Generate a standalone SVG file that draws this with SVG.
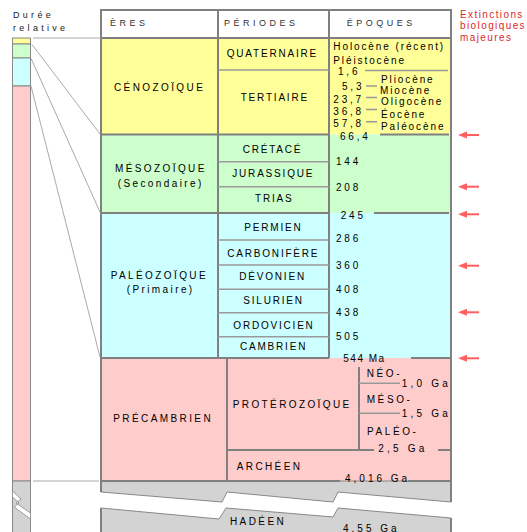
<svg xmlns="http://www.w3.org/2000/svg" width="527" height="532" viewBox="0 0 527 532">
<style>
text{font-family:"Liberation Sans",Arial,sans-serif;fill:#000}
.hd{font-size:9px;letter-spacing:3.5px;fill:#333}
.dr{font-size:9px;letter-spacing:3.3px;fill:#222}
.era{font-size:10px;letter-spacing:2.4px}
.per{font-size:10px;letter-spacing:1.8px}
.ep{font-size:10px;letter-spacing:1.9px}
.num{font-size:10px;letter-spacing:2.8px}
.red{font-size:10px;letter-spacing:1.4px;fill:#e02828}
.b{stroke:#808080;stroke-width:2;fill:none}
.t{stroke:#999;stroke-width:1.5;fill:none}
.c{stroke:#aaa;stroke-width:1;fill:none}
.bar{stroke:#888;stroke-width:1}
</style>
<defs>
<g id="arr"><path d="M458,0 L467,-3.5 L467,3.5 Z" fill="#ff5f5f"/><line x1="465" y1="0" x2="479" y2="0" stroke="#ff5f5f" stroke-width="2"/></g>
</defs>

<g id="legend-bar">
<rect x="12.5" y="38" width="18" height="6" fill="#ffff99" class="bar"/>
<rect x="12.5" y="44" width="18" height="14" fill="#ccffcc" class="bar"/>
<rect x="12.5" y="58" width="18" height="28" fill="#ccffff" class="bar"/>
<rect x="12.5" y="86" width="18" height="395" fill="#ffcccc" class="bar"/>
<rect x="12.5" y="481" width="18" height="52" fill="#d3d3d3" class="bar"/>
<polygon points="12.5,491 21,499 16,503 30.5,513 30.5,519 14,507 19,503 12.5,497" fill="#fff" stroke="#999" stroke-width="1"/>
<text class="dr" x="13" y="18">Durée</text>
<text class="dr" x="13" y="31">relative</text>
</g>

<g id="extinctions-title">
<text class="red" x="460" y="17.5">Extinctions</text>
<text class="red" x="460" y="29">biologiques</text>
<text class="red" x="460" y="40.5">majeures</text>
</g>

<g id="backgrounds">
<rect x="101" y="10" width="350" height="28" fill="#fff"/>
<rect x="101" y="38" width="350" height="96.5" fill="#ffff99"/>
<rect x="101" y="134.5" width="350" height="78.5" fill="#ccffcc"/>
<rect x="101" y="213" width="350" height="145" fill="#ccffff"/>
<rect x="101" y="358" width="350" height="123" fill="#ffcccc"/>
<polygon points="101,481 451,481 451,502 338,492 333,502 227,492 222,502 101,492" fill="#d3d3d3" stroke="#888" stroke-width="1"/>
<polygon points="101,508 219,519 226,508 333,517 338,508 451,518 451,533 101,533" fill="#d3d3d3" stroke="#888" stroke-width="1"/>
</g>

<g id="header">
<text class="hd" x="110" y="25.5">ÈRES</text>
<text class="hd" x="224" y="25.5">PÉRIODES</text>
<text class="hd" x="346.7" y="25.5">ÉPOQUES</text>
</g>

<g id="cenozoique">
<text class="era" x="114" y="91">CÉNOZOÏQUE</text>
<g id="quaternaire"><text class="per" x="226.7" y="57">QUATERNAIRE</text></g>
<g id="tertiaire"><text class="per" x="240.7" y="101">TERTIAIRE</text></g>
<g id="epoques-cenozoique">
<text class="ep" x="333.3" y="50">Holocène (récent)</text>
<text class="ep" x="333.3" y="63.5">Pléistocène</text>
<text class="num" x="338" y="74.5">1,6</text>
<text class="ep" x="381" y="82.5">Pliocène</text>
<text class="num" x="342" y="89.5">5,3</text>
<text class="ep" x="380" y="93.5">Miocène</text>
<text class="num" x="333.3" y="102.5">23,7</text>
<text class="ep" x="381" y="105">Oligocène</text>
<text class="num" x="333.3" y="114.5">36,8</text>
<text class="ep" x="381" y="117.8">Éocène</text>
<text class="num" x="333.3" y="126.5">57,8</text>
<text class="ep" x="381" y="130">Paléocène</text>
<text class="num" x="340" y="139.5">66,4</text>
</g>
</g>

<g id="mesozoique">
<text class="era" x="115" y="172">MÉSOZOÏQUE</text>
<text class="era" x="117.7" y="187">(Secondaire)</text>
<g id="cretace"><text class="per" x="242.7" y="152.5">CRÉTACÉ</text></g>
<g id="jurassique"><text class="per" x="232.3" y="177">JURASSIQUE</text></g>
<g id="trias"><text class="per" x="255" y="202">TRIAS</text></g>
<text class="num" x="336" y="165.2">144</text>
<text class="num" x="336" y="190.5">208</text>
<text class="num" x="340.7" y="219">245</text>
</g>

<g id="paleozoique">
<text class="era" x="110.7" y="278.5">PALÉOZOÏQUE</text>
<text class="era" x="126.7" y="292.5">(Primaire)</text>
<g id="permien"><text class="per" x="244.3" y="231.2">PERMIEN</text></g>
<g id="carbonifere"><text class="per" x="227.3" y="257">CARBONIFÈRE</text></g>
<g id="devonien"><text class="per" x="239.3" y="280.2">DÉVONIEN</text></g>
<g id="silurien"><text class="per" x="243.3" y="304.2">SILURIEN</text></g>
<g id="ordovicien"><text class="per" x="233.3" y="328.5">ORDOVICIEN</text></g>
<g id="cambrien"><text class="per" x="240" y="350.2">CAMBRIEN</text></g>
<text class="num" x="336" y="242.2">286</text>
<text class="num" x="336" y="268.5">360</text>
<text class="num" x="336" y="292.5">408</text>
<text class="num" x="336" y="315.5">438</text>
<text class="num" x="336" y="340.2">505</text>
<text class="num" x="343.3" y="361.5" style="letter-spacing:1.5px">544 Ma</text>
</g>

<g id="precambrien">
<text class="era" x="113.3" y="421.8">PRÉCAMBRIEN</text>
<g id="proterozoique"><text class="era" x="232.7" y="408">PROTÉROZOÏQUE</text></g>
<g id="neo"><text class="per" x="366.7" y="377" style="letter-spacing:2.6px">NÉO-</text><text class="num" x="401.7" y="386.8" style="letter-spacing:3.2px">1,0 Ga</text></g>
<g id="meso"><text class="per" x="366.7" y="403" style="letter-spacing:2.6px">MÉSO-</text><text class="num" x="401.7" y="416.5" style="letter-spacing:3.2px">1,5 Ga</text></g>
<g id="paleo"><text class="per" x="367" y="435" style="letter-spacing:2.6px">PALÉO-</text><text class="num" x="378.3" y="451.8" style="letter-spacing:3.2px">2,5 Ga</text></g>
<g id="archeen"><text class="era" x="236.7" y="470">ARCHÉEN</text></g>
<text class="num" x="345" y="482" style="letter-spacing:3px">4,016 Ga</text>
</g>

<g id="hadeen">
<text class="era" x="230" y="525">HADÉEN</text>
<text class="num" x="343" y="531.5" style="letter-spacing:3px">4,55 Ga</text>
</g>

<g id="grid">
<path class="b" d="M101,532 V508 M101,492 V10 H451 V502 M451,518 V532"/>
<path class="b" d="M101,38 H451 M218,10 V358 M329,10 V358"/>
<path class="b" d="M101,134.5 H329 M380,134.5 H449 M101,213 H329 M374,213 H449 M101,358 H329 M411,358 H451"/>
<path class="b" d="M101,481 H340 M408,481 H451 M227,358 V481 M359,367 V450 M227,450 H374 M438,450 H451"/>
<path class="t" d="M218,70 H329 M365,70.5 H448 M218,161.7 H329 M218,186.7 H329 M218,240 H329 M218,265 H329 M218,289.3 H329 M218,312.7 H329 M218,336.7 H329"/>
<path class="t" d="M366,86 H377 M366,97.5 H377 M366,109.5 H377 M366,121.7 H377 M359,383.3 H400 M359,413.3 H400"/>
</g>

<g id="connectors">
<path class="c" d="M33,38 H101 M32,44.5 L100,134 M31,58.3 L100,212 M31,86 L100,357 M33,481 H99"/>
<use href="#arr" y="135"/>
<use href="#arr" y="186.7"/>
<use href="#arr" y="214.3"/>
<use href="#arr" y="265.7"/>
<use href="#arr" y="312.3"/>
<use href="#arr" y="358.3"/>
</g>
</svg>
